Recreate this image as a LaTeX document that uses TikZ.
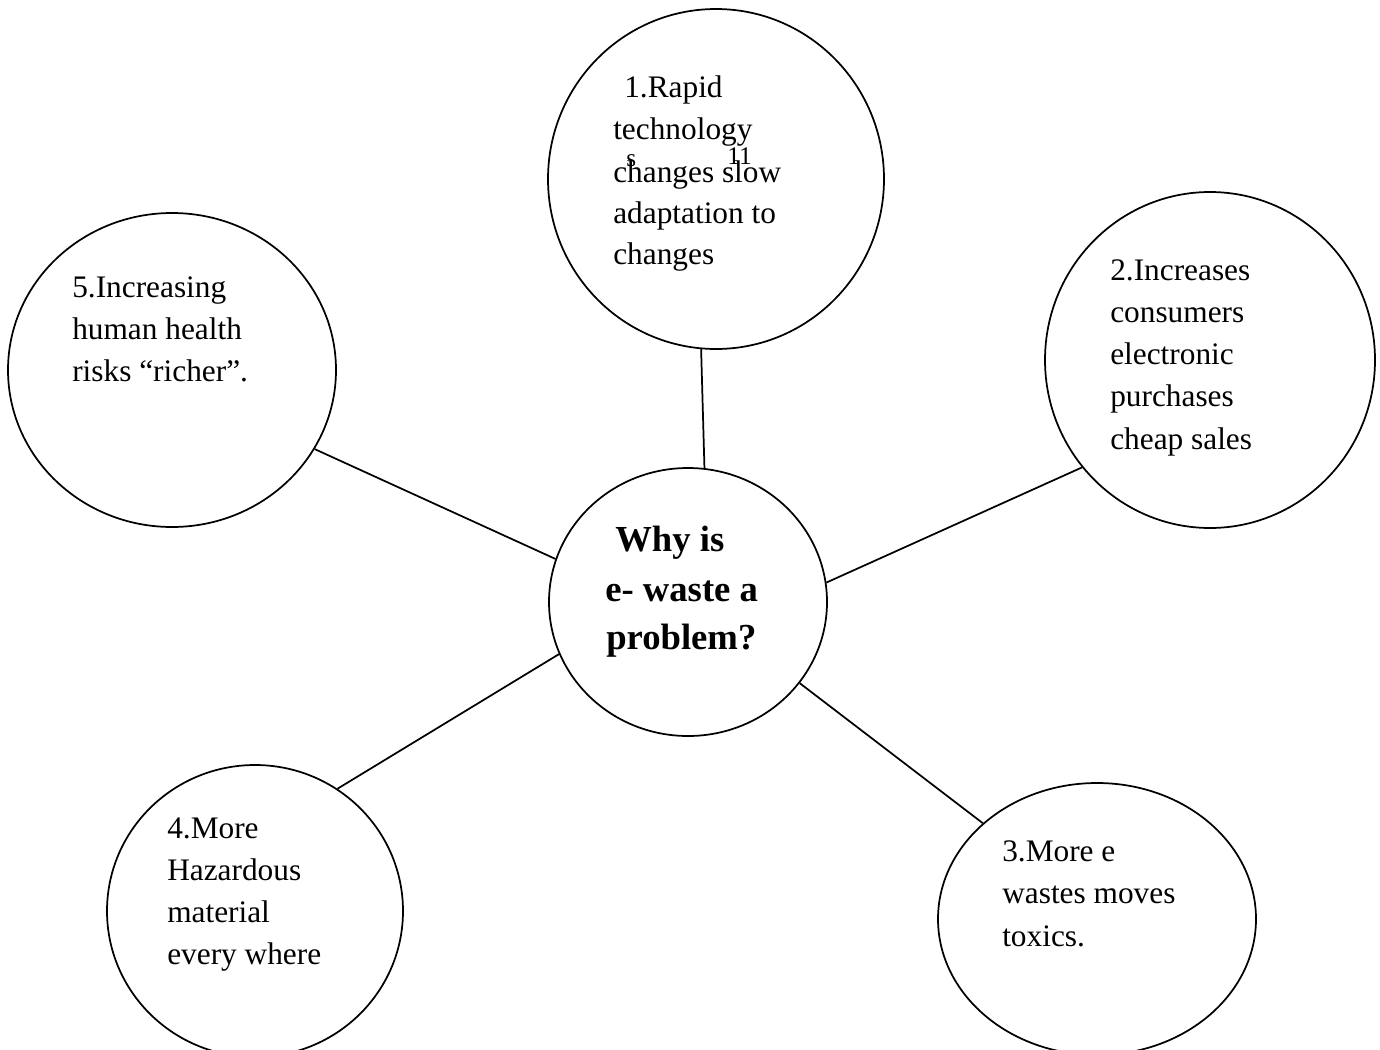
\documentclass[tikz,border=0pt]{standalone}
\usepackage{fontspec}
\setmainfont{Liberation Serif}
\usetikzlibrary{shapes.geometric}
\begin{document}
\begin{tikzpicture}[x=0.75pt,y=-0.75pt,
  bubble/.style={draw, ellipse, line width=1.3pt, inner sep=0pt},
  txt/.style={anchor=base west, inner sep=0pt, font=\fontsize{23.5}{31.5}\selectfont},
  btxt/.style={anchor=base west, inner sep=0pt, font=\fontsize{27.5}{36}\selectfont\bfseries},
  tiny/.style={anchor=base west, inner sep=0pt, font=\fontsize{19}{22}\selectfont},
  link/.style={line width=1.3pt}]
\useasboundingbox (0,0) rectangle (1380,1049);
\clip (0,0) rectangle (1380,1049);
% bubbles
\node[bubble, minimum width=208.5pt, minimum height=201pt] (c) at (688,602) {};
\node[bubble, minimum width=252pt, minimum height=255pt] (n1) at (716,179) {};
\node[bubble, minimum width=247.5pt, minimum height=252pt] (n2) at (1210,360) {};
\node[bubble, minimum width=238.5pt, minimum height=204pt] (n3) at (1097,919) {};
\node[bubble, minimum width=222pt, minimum height=219pt] (n4) at (255,911) {};
\node[bubble, minimum width=246pt, minimum height=235.5pt] (n5) at (172,370) {};
% connectors
\draw[link] (c.83.6) -- (n1.265.6);
\draw[link] (c.8.2) -- (n2.220);
\draw[link] (c.-36.3) -- (n3.140);
\draw[link] (c.202) -- (n4.56);
\draw[link] (c.162.4) -- (n5.-29);
% centre text
\node[btxt] (cw1) at (615,551) {Why is};
\node[btxt] (cw2) at (605,601) {e- waste a};
\node[btxt] (cw3) at (606,649) {problem?};
% bubble 1
\node[txt] (a1) at (624,97) {1.Rapid};
\node[txt] (a2) at (613,139) {technology};
\node[txt] (a3) at (613,182) {changes slow};
\node[txt] (a4) at (613,223) {adaptation to};
\node[txt] (a5) at (613,264) {changes};
\node[tiny] (a6) at (626,166) {s};
\node[tiny] (a7) at (727,164) {11};
% bubble 2
\node[txt] (b1) at (1110,280) {2.Increases};
\node[txt] (b2) at (1110,322) {consumers};
\node[txt] (b3) at (1110,364) {electronic};
\node[txt] (b4) at (1110,406) {purchases};
\node[txt] (b5) at (1110,449) {cheap sales};
% bubble 3
\node[txt] (d1) at (1002,861) {3.More e};
\node[txt] (d2) at (1002,903) {wastes moves};
\node[txt] (d3) at (1002,946) {toxics.};
% bubble 4
\node[txt] (e1) at (167,838) {4.More};
\node[txt] (e2) at (167,880) {Hazardous};
\node[txt] (e3) at (167,922) {material};
\node[txt] (e4) at (167,964) {every where};
% bubble 5
\node[txt] (f1) at (72,297) {5.Increasing};
\node[txt] (f2) at (72,339) {human health};
\node[txt] (f3) at (72,381) {risks “richer”.};
\end{tikzpicture}
\end{document}
